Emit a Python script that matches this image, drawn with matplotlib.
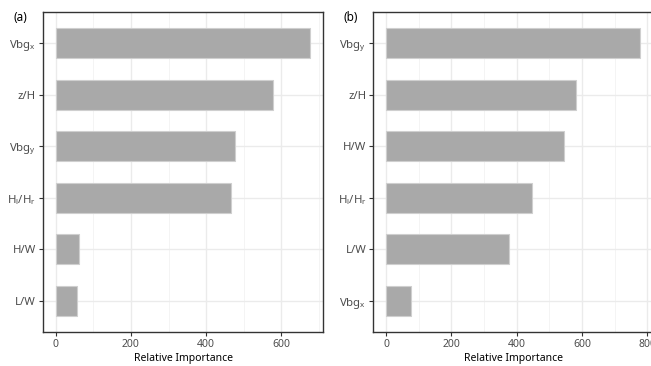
import numpy as np
import matplotlib
matplotlib.use('Agg')
import matplotlib.pyplot as plt
from matplotlib.ticker import MultipleLocator

plt.rcParams['font.family'] = ['Noto Sans', 'DejaVu Sans']
plt.rcParams['mathtext.fontset'] = 'custom'
plt.rcParams['mathtext.rm'] = 'Noto Sans'
plt.rcParams['mathtext.it'] = 'Noto Sans:italic'

# variables listed top to bottom
labels_a = [r'$\mathregular{Vbg_x}$', 'z/H', r'$\mathregular{Vbg_y}$',
            r'$\mathregular{H_l/H_r}$', 'H/W', 'L/W']
importance_a = [677, 577, 476, 465, 62, 56]

labels_b = [r'$\mathregular{Vbg_y}$', 'z/H', 'H/W',
            r'$\mathregular{H_l/H_r}$', 'L/W', r'$\mathregular{Vbg_x}$']
importance_b = [778, 581, 546, 448, 376, 77]

W, H = 651, 366


def draw_panel(ax, labels, values, tag):
    n = len(values)
    ypos = np.arange(n)[::-1] + 1
    ax.set_axisbelow(True)
    ax.barh(ypos, values, height=0.58, color='#a9a9a9',
            edgecolor='#cfcfcf', linewidth=0.8, zorder=2)
    vmax = max(values)
    ax.set_xlim(-0.05 * vmax, 1.05 * vmax)
    ax.set_ylim(0.4, n + 0.6)
    ax.set_yticks(ypos)
    ax.set_yticklabels(labels)
    ax.xaxis.set_major_locator(MultipleLocator(200))
    ax.xaxis.set_minor_locator(MultipleLocator(100))
    ax.grid(which='major', color='#ebebeb', linewidth=1.0)
    ax.grid(which='minor', axis='x', color='#f2f2f2', linewidth=0.6)
    ax.tick_params(which='major', length=3, width=0.8, color='#333333',
                   labelcolor='#4d4d4d', labelsize=7.5, pad=2)
    ax.tick_params(axis='y', labelsize=8.2)
    ax.tick_params(which='minor', length=0)
    for s in ax.spines.values():
        s.set_color('#333333')
        s.set_linewidth(1.0)
    ax.set_xlabel('Relative Importance', fontsize=7.5, color='black', labelpad=2)
    ax.text(-0.105, 0.982, tag, transform=ax.transAxes, fontsize=8.5,
            ha='left', va='center', color='black')


fig = plt.figure(figsize=(W / 100, H / 100), dpi=100)
ax1 = fig.add_axes([43 / W, 34 / H, 280 / W, 320 / H])
ax2 = fig.add_axes([373.3 / W, 34 / H, 279.4 / W, 320 / H])

draw_panel(ax1, labels_a, importance_a, '(a)')
draw_panel(ax2, labels_b, importance_b, '(b)')

fig.savefig('out.png', dpi=100)
